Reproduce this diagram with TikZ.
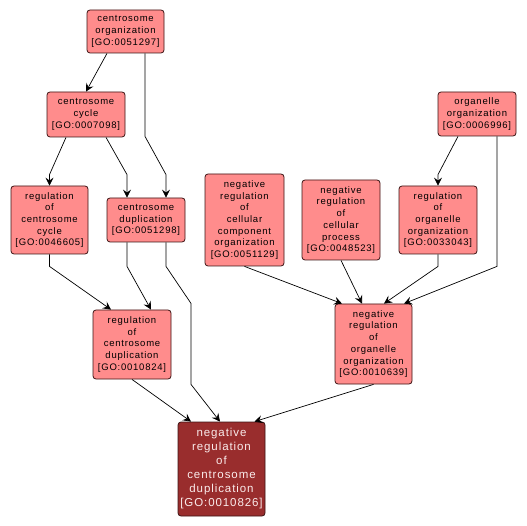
\documentclass[tikz,border=0pt]{standalone}
\usepackage{fontspec}
\setmainfont{Liberation Sans}
\newfontfamily\gofont[LetterSpace=8]{Liberation Sans}
\usetikzlibrary{arrows.meta}
\definecolor{termfill}{RGB}{255,140,140}
\definecolor{leaffill}{RGB}{153,45,45}
\definecolor{termline}{RGB}{60,20,20}
\tikzset{
  goterm/.style={draw=termline,fill=termfill,line width=0.8pt,rounded corners=3pt,
    inner sep=0pt,align=center,minimum width=78pt,
    font=\gofont\fontsize{9.5}{11.7}\selectfont},
  goleaf/.style={goterm,fill=leaffill,text={rgb,255:red,250;green,235;blue,235},
    font=\gofont\fontsize{11.5}{14}\selectfont},
  edge/.style={line width=0.7pt,-{Stealth[length=8pt,width=8pt,inset=3pt]}}
}
\begin{document}
\begin{tikzpicture}[x=1pt,y=-1pt]
  \useasboundingbox (0,0) rectangle (527,526);
  % terms
  \node[goterm,minimum width=77pt,minimum height=43pt] (centorg) at (125.5,31.5)
    {centrosome\\organization\\{[GO:0051297]}};
  \node[goterm,minimum height=45pt] (centcyc) at (86,114.5)
    {centrosome\\cycle\\{[GO:0007098]}};
  \node[goterm,minimum width=77pt,minimum height=68pt] (regcyc) at (49.5,220)
    {regulation\\of\\centrosome\\cycle\\{[GO:0046605]}};
  \node[goterm,minimum height=44pt] (centdup) at (146,220)
    {centrosome\\duplication\\{[GO:0051298]}};
  \node[goterm,minimum width=79pt,minimum height=92pt] (negcomp) at (244.5,220)
    {negative\\regulation\\of\\cellular\\component\\organization\\{[GO:0051129]}};
  \node[goterm,minimum height=80pt] (negproc) at (341,220)
    {negative\\regulation\\of\\cellular\\process\\{[GO:0048523]}};
  \node[goterm,minimum height=68pt] (regorg) at (438,220)
    {regulation\\of\\organelle\\organization\\{[GO:0033043]}};
  \node[goterm,minimum height=44pt] (orgorg) at (477,114)
    {organelle\\organization\\{[GO:0006996]}};
  \node[goterm,minimum width=77pt,minimum height=80pt] (negorg) at (373.5,344)
    {negative\\regulation\\of\\organelle\\organization\\{[GO:0010639]}};
  \node[goterm,minimum height=69pt] (regdup) at (132,344.5)
    {regulation\\of\\centrosome\\duplication\\{[GO:0010824]}};
  \node[goleaf,minimum width=87pt,minimum height=94pt] (negdup) at (221.5,469)
    {negative\\regulation\\of\\centrosome\\duplication\\{[GO:0010826]}};
  % is_a links
  \draw[edge] ([xshift=-18.5]centorg.south) -- (centcyc.north);
  \draw[edge] ([xshift=19.5]centorg.south) -- ++(0,83)
    -- ([xshift=20,yshift=23]centdup.north) -- ([xshift=20]centdup.north);
  \draw[edge] ([xshift=-20]centcyc.south) -- ([yshift=11]regcyc.north) -- (regcyc.north);
  \draw[edge] ([xshift=20]centcyc.south) -- ([xshift=-19,yshift=23]centdup.north)
    -- ([xshift=-19]centdup.north);
  \draw[edge] ([xshift=-19]orgorg.south) -- ([yshift=11]regorg.north) -- (regorg.north);
  \draw[edge] ([xshift=20]orgorg.south) -- ++(0,130) -- ([xshift=30.5]negorg.north);
  \draw[edge] (regorg.south) -- ++(0,12) -- ([xshift=10.5]negorg.north);
  \draw[edge] (negproc.south) -- ([xshift=-11.5]negorg.north);
  \draw[edge] (negcomp.south) -- ([xshift=-31.5]negorg.north);
  \draw[edge] (regcyc.south) -- ++(0,12) -- ([xshift=-21]regdup.north);
  \draw[edge] ([xshift=-19]centdup.south) -- ++(0,24) -- ([xshift=19]regdup.north);
  \draw[edge] ([xshift=20]centdup.south) -- ++(0,24) -- ++(25,37) -- ++(0,81)
    -- ([xshift=-1.5]negdup.north);
  \draw[edge] (regdup.south) -- ([xshift=-30.5]negdup.north);
  \draw[edge] (negorg.south) -- ([xshift=33]negdup.north);
\end{tikzpicture}
\end{document}
